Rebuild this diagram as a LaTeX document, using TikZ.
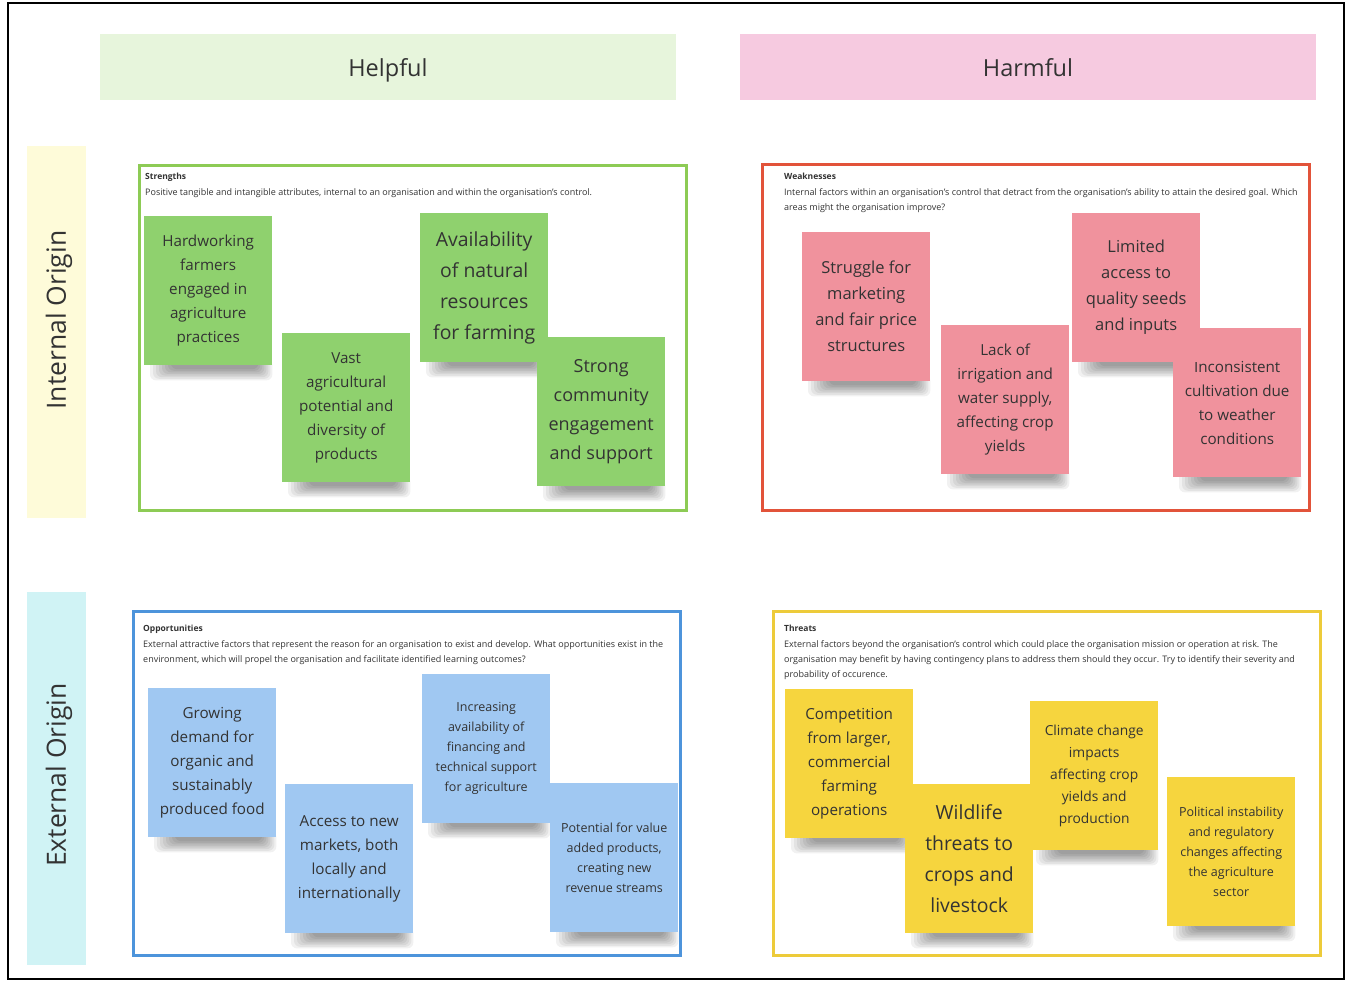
\documentclass[tikz,border=0pt]{standalone}
\usepackage{fontspec}
\setmainfont{Open Sans}
\usetikzlibrary{calc, backgrounds}

\definecolor{helpbg}{HTML}{E7F5DC}
\definecolor{harmbg}{HTML}{F6CAE0}
\definecolor{intbg}{HTML}{FEFBD9}
\definecolor{extbg}{HTML}{D0F3F5}
\definecolor{sline}{HTML}{8DCB55}
\definecolor{wline}{HTML}{E2533A}
\definecolor{oline}{HTML}{4D94DB}
\definecolor{tline}{HTML}{EDCB3A}
\definecolor{snote}{HTML}{8FD16E}
\definecolor{wnote}{HTML}{F0929D}
\definecolor{onote}{HTML}{A0C8F2}
\definecolor{tnote}{HTML}{F6D53E}
\definecolor{ink}{HTML}{333333}

\newcommand{\fs}[2]{\fontsize{#1}{#2}\selectfont}

\begin{document}
\begin{tikzpicture}[
    x=1pt, y=-1pt,
    toplbl/.style={anchor=base, inner sep=0, text=ink, font=\fs{23.5}{28}},
    sidelbl/.style={inner sep=0, text=ink, rotate=90, font=\fs{26.5}{30}},
    quad/.style={line width=3pt},
    qtitle/.style={anchor=north west, inner sep=0, font=\bfseries\fs{8.5}{10}, text=ink},
    qtext/.style={anchor=north west, inner sep=0, align=left, font=\fs{9}{15}, text=ink},
    notebox/.style={anchor=north west, minimum width=128, minimum height=149,
        inner sep=0, align=center, text=ink, font=\fs{15.2}{24}},
    snotebox/.style={notebox, fill=snote},
    wnotebox/.style={notebox, fill=wnote},
    onotebox/.style={notebox, fill=onote},
    tnotebox/.style={notebox, fill=tnote},
    shade/.style={black, opacity=0.055, rounded corners=6},
]
\useasboundingbox (0,0) rectangle (1355,981);
\draw[line width=2pt] (8,3) rectangle (1344,979);

% --- Column and row headers ---
\fill[helpbg] (100,34) rectangle (676,100);
\fill[harmbg] (740,34) rectangle (1316,100);
\node[toplbl] (helpful) at (388,77) {Helpful};
\node[toplbl] (harmful) at (1028,77) {Harmful};
\fill[intbg] (27,146) rectangle (86,518);
\fill[extbg] (27,592) rectangle (86,965);
\node[sidelbl] (internal) at (59,320) {Internal Origin};
\node[sidelbl] (external) at (59,775) {External Origin};

% --- Quadrant frames ---
\draw[quad, sline] (139,166) rectangle (686,510);
\draw[quad, wline] (762,165) rectangle (1309,510);
\draw[quad, oline] (133,611) rectangle (680,955);
\draw[quad, tline] (773,611) rectangle (1320,955);

\node[qtitle] (stitle) at (145,173) {Strengths};
\node[qtext] (sdesc) at (145,188) {Positive tangible and intangible attributes, internal to an organisation and within the organisation's control.};
\node[qtitle] (wtitle) at (784,173) {Weaknesses};
\node[qtext] (wdesc) at (784,188) {Internal factors within an organisation's control that detract from the organisation's ability to attain the desired goal. Which\\areas might the organisation improve?};
\node[qtitle] (otitle) at (143,625) {Opportunities};
\node[qtext] (odesc) at (143,640) {External attractive factors that represent the reason for an organisation to exist and develop. What opportunities exist in the\\environment, which will propel the organisation and facilitate identified learning outcomes?};
\node[qtitle] (ttitle) at (784,625) {Threats};
\node[qtext] (tdesc) at (784,640) {External factors beyond the organisation's control which could place the organisation mission or operation at risk. The\\organisation may benefit by having contingency plans to address them should they occur. Try to identify their severity and\\probability of occurence.};

% --- Strengths ---
\node[snotebox] (s1) at (144,216) {Hardworking\\farmers\\engaged in\\agriculture\\practices};
\node[snotebox] (s2) at (282,333) {Vast\\agricultural\\potential and\\diversity of\\products};
\node[snotebox, font=\fs{19.4}{31}] (s3) at (420,213) {Availability\\of natural\\resources\\for farming};
\node[snotebox, font=\fs{18}{29}] (s4) at (537,337) {Strong\\community\\engagement\\and support};

% --- Weaknesses ---
\node[wnotebox, font=\fs{16.5}{26}] (w1) at (802,232) {Struggle for\\marketing\\and fair price\\structures};
\node[wnotebox] (w2) at (941,325) {Lack of\\irrigation and\\water supply,\\affecting crop\\yields};
\node[wnotebox] (w4) at (1173,328) {Inconsistent\\cultivation due\\to weather\\conditions};
\node[wnotebox, font=\fs{16.5}{26}] (w3) at (1072,213) {Limited\\access to\\quality seeds\\and inputs};

% --- Opportunities ---
\node[onotebox] (o1) at (148,688) {Growing\\demand for\\organic and\\sustainably\\produced food};
\node[onotebox] (o2) at (285,784) {Access to new\\markets, both\\locally and\\internationally};
\node[onotebox, font=\fs{12.5}{20}] (o3) at (422,674) {Increasing\\availability of\\financing and\\technical support\\for agriculture};
\node[onotebox, font=\fs{12.5}{20}] (o4) at (550,783) {Potential for value\\added products,\\creating new\\revenue streams};

% --- Threats ---
\node[tnotebox] (t1) at (785,689) {Competition\\from larger,\\commercial\\farming\\operations};
\node[tnotebox, font=\fs{19.4}{31}] (t2) at (905,784) {Wildlife\\threats to\\crops and\\livestock};
\node[tnotebox, font=\fs{13.8}{22}] (t3) at (1030,701) {Climate change\\impacts\\affecting crop\\yields and\\production};
\node[tnotebox, font=\fs{12.5}{20}] (t4) at (1167,777) {Political instability\\and regulatory\\changes affecting\\the agriculture\\sector};

% --- Soft shadows under the notes ---
\begin{scope}[on background layer]
\fill[white] (0,0) rectangle (1355,981);
\foreach \n in {s1,s2,s3,s4,w1,w2,w3,w4,o1,o2,o3,o4,t1,t2,t3,t4} {
    \foreach \k in {0,...,7} {
        \fill[shade] ($(\n.south west)+(6+3*\k,-6)$)
            rectangle ($(\n.south east)+(-2*\k,15-1.6*\k)$);
    }
}
\end{scope}

\end{tikzpicture}
\end{document}
